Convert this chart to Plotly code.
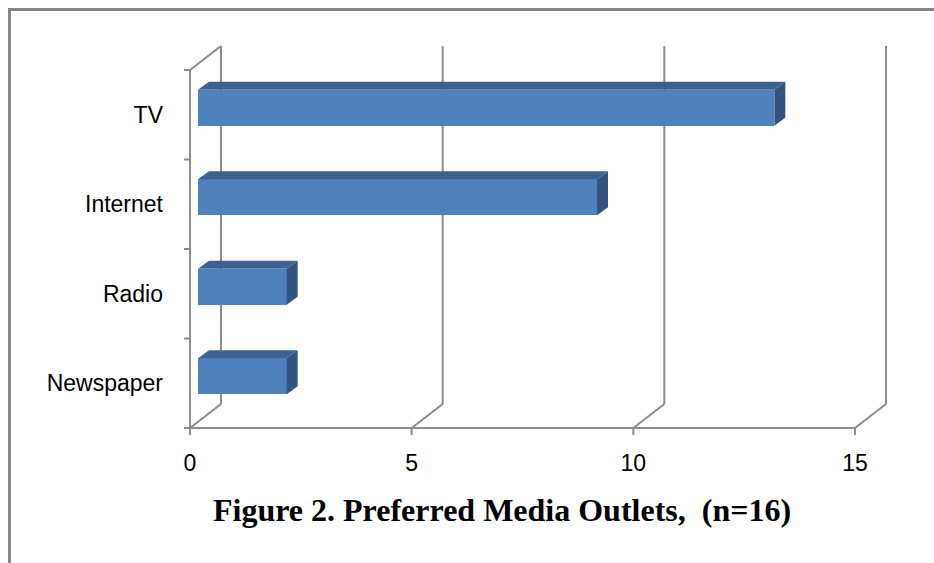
import plotly.graph_objects as go

# ---------------- data ----------------
categories = ["Newspaper", "Radio", "Internet", "TV"]
values = [2, 2, 9, 13]
x_ticks = [0, 5, 10, 15]
title_text = "<b>Figure 2. Preferred Media Outlets,  (n=16)</b>"

# ---------------- geometry / style ----------------
W, H = 934, 563
X0_PX, X15_PX = 190, 855          # pixel of value 0 / 15 on front plane
Y0_PX, Y4_PX = 428, 70            # pixel of category bottom / top on front plane
PX_X = (X15_PX - X0_PX) / 15.0
PX_Y = (Y0_PX - Y4_PX) / 4.0
PL, PR, PT, PB = 176, 900, 38, 440  # plot area in pixels

xr = [-(X0_PX - PL) / PX_X, (PR - X0_PX) / PX_X]
yr = [-(PB - Y0_PX) / PX_Y, (Y0_PX - PT) / PX_Y]

WALL_DX, WALL_DY = 31 / PX_X, 24 / PX_Y     # depth of the 3D wall
BAR_FX, BAR_FY = 8 / PX_X, 7 / PX_Y         # bar front face offset
BAR_DX, BAR_DY = 11 / PX_X, 8 / PX_Y        # bar depth
BAR_H = 36 / PX_Y
TICK_X, TICK_Y = 7 / PX_Y, 6 / PX_X

C_FRONT = "#4F81BD"
C_TOP = "#3C6292"
C_SIDE = "#325480"
C_GRID = "#8C8C8C"
C_FRAME = "#868686"

ncat = len(categories)
centers = [i + 0.5 for i in range(ncat)]

fig = go.Figure()

# front face of bars
fig.add_trace(go.Bar(
    orientation="h",
    y=[c + BAR_FY for c in centers],
    x=values,
    base=BAR_FX,
    width=BAR_H,
    marker=dict(color=C_FRONT, line=dict(width=0)),
    hoverinfo="skip",
    showlegend=False,
))

# top and side faces
tx, ty, sx, sy = [], [], [], []
for c, v in zip(centers, values):
    top = c + BAR_FY + BAR_H / 2
    bot = c + BAR_FY - BAR_H / 2
    x1 = BAR_FX + v
    tx += [BAR_FX, x1, x1 + BAR_DX, BAR_FX + BAR_DX, BAR_FX, None]
    ty += [top, top, top + BAR_DY, top + BAR_DY, top, None]
    sx += [x1, x1, x1 + BAR_DX, x1 + BAR_DX, x1, None]
    sy += [bot, top, top + BAR_DY, bot + BAR_DY, bot, None]

fig.add_trace(go.Scatter(x=tx, y=ty, fill="toself", fillcolor=C_TOP, mode="lines",
                         line=dict(width=0, color=C_TOP), hoverinfo="skip", showlegend=False))
fig.add_trace(go.Scatter(x=sx, y=sy, fill="toself", fillcolor=C_SIDE, mode="lines",
                         line=dict(width=0, color=C_SIDE), hoverinfo="skip", showlegend=False))

# 3D wall gridlines, axis lines and ticks as shapes below traces
shapes = []
def seg(x0, y0, x1, y1, color=C_GRID, w=2):
    shapes.append(dict(type="line", xref="x", yref="y", x0=x0, y0=y0, x1=x1, y1=y1,
                       line=dict(color=color, width=w), layer="below"))

for t in x_ticks:
    seg(t, 0, t + WALL_DX, WALL_DY)
    seg(t + WALL_DX, WALL_DY, t + WALL_DX, ncat + WALL_DY)
    seg(t, 0, t, -TICK_X)
seg(0, 0, 0, ncat)
seg(0, 0, x_ticks[-1], 0)
seg(0, ncat, WALL_DX, ncat + WALL_DY)
for i in range(ncat + 1):
    seg(0, i, -TICK_Y, i)

# outer frame (paper coords)
def px2paper_x(px):
    return (px - PL) / (PR - PL)
def px2paper_y(py):
    return (PB - py) / (PB - PT)

shapes.append(dict(type="line", xref="paper", yref="paper",
                   x0=px2paper_x(8), x1=px2paper_x(W + 2), y0=px2paper_y(9.5), y1=px2paper_y(9.5),
                   line=dict(color=C_FRAME, width=3)))
shapes.append(dict(type="line", xref="paper", yref="paper",
                   x0=px2paper_x(9.5), x1=px2paper_x(9.5), y0=px2paper_y(8), y1=px2paper_y(H + 2),
                   line=dict(color=C_FRAME, width=3)))

fig.add_annotation(text=title_text, xref="paper", yref="paper",
                   x=px2paper_x(502), y=px2paper_y(510), xanchor="center", yanchor="middle",
                   showarrow=False,
                   font=dict(family="Liberation Serif", size=32, color="#000000"))

fig.update_layout(
    width=W, height=H,
    margin=dict(l=PL, r=W - PR, t=PT, b=H - PB, pad=0),
    paper_bgcolor="white", plot_bgcolor="white",
    shapes=shapes,
    showlegend=False,
    font=dict(family="Liberation Sans", size=23, color="#000000"),
    xaxis=dict(range=xr, tickvals=x_ticks, ticktext=[str(t) for t in x_ticks],
               showgrid=False, zeroline=False, showline=False, ticks="",
               ticklabelstandoff=7, fixedrange=True),
    yaxis=dict(range=yr, tickvals=centers, ticktext=categories,
               showgrid=False, zeroline=False, showline=False, ticks="",
               ticklabelstandoff=12, fixedrange=True),
    bargap=0,
)

fig.write_html("out.html")
